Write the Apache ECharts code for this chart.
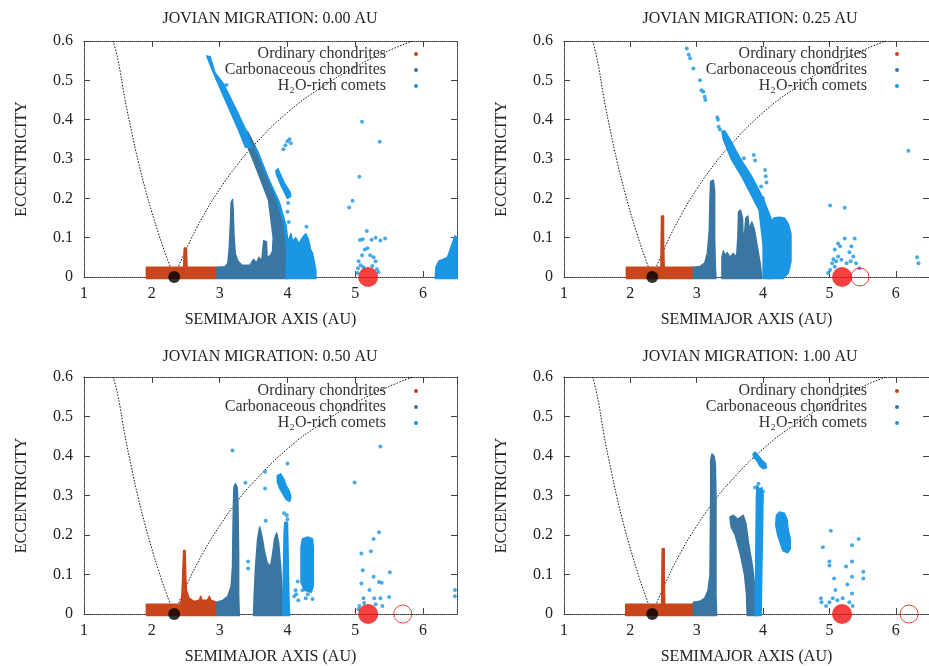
<!DOCTYPE html>
<html>
<head>
<meta charset="utf-8">
<script src="https://cdn.jsdelivr.net/npm/echarts@6/dist/echarts.min.js"></script>
<style>
  html, body { margin: 0; padding: 0; background: #fff; overflow: hidden; }
  #chart { width: 929px; height: 666px; }
</style>
</head>
<body>
<div id="chart"></div>
<script>
const panelTitles = [
  'JOVIAN MIGRATION: 0.00 AU',
  'JOVIAN MIGRATION: 0.25 AU',
  'JOVIAN MIGRATION: 0.50 AU',
  'JOVIAN MIGRATION: 1.00 AU'
]
const seriesNames = ['Ordinary chondrites', 'Carbonaceous chondrites', 'H\u2082O-rich comets']

// dotted guide curves
const aphelionCurve = [[1.43, 0.6], [1.5, 0.553], [1.6, 0.456], [1.7, 0.371], [1.8, 0.294], [1.9, 0.226], [2.0, 0.165], [2.1, 0.11], [2.2, 0.059], [2.33, 0]]
const perihelionCurve = [[2.33, 0], [2.5, 0.068], [2.75, 0.153], [3.0, 0.223], [3.25, 0.283], [3.5, 0.334], [4.0, 0.418], [4.5, 0.482], [5.0, 0.534], [5.5, 0.576], [5.85, 0.6]]

const innerEdge = [2.33, 0]
const jupiterNow = [5.19, 0]
const jupiterStart = [null, [5.46, 0], [5.7, 0], [6.2, 0]]

// panel 1 : 0.00 AU
const p1Ordinary = [
  [[1.92, -0.004], [1.92, 0.025], [2.96, 0.025], [2.96, -0.004]],
  [[2.47, 0.02], [2.475, 0.06], [2.48, 0.074], [2.51, 0.074], [2.515, 0.05], [2.52, 0.02]]
]
const p1Carbon = [
  [[2.96, -0.004], [2.96, 0.025], [3.08, 0.026], [3.12, 0.035], [3.14, 0.07], [3.16, 0.14], [3.17, 0.19], [3.19, 0.197], [3.2, 0.17], [3.21, 0.11], [3.23, 0.06], [3.27, 0.04], [3.33, 0.03], [3.45, 0.03], [3.5, 0.045], [3.54, 0.035], [3.58, 0.05], [3.62, 0.04], [3.65, 0.092], [3.69, 0.09], [3.7, 0.05], [3.75, 0.055], [3.78, 0.065], [3.79, 0.1], [3.72, 0.196], [3.57, 0.263], [3.43, 0.325], [3.3, 0.365], [3.41, 0.37], [3.53, 0.33], [3.68, 0.265], [3.84, 0.2], [3.95, 0.13], [3.99, 0.07], [4.0, -0.004]]
]
const p1Comets = [
  [[2.81, 0.562], [2.86, 0.56], [2.93, 0.52], [3.06, 0.49], [3.25, 0.424], [3.41, 0.365], [3.47, 0.33], [3.38, 0.33], [3.3, 0.365], [3.15, 0.424], [2.98, 0.49], [2.86, 0.54]],
  [[3.52, 0.33], [3.56, 0.32], [3.72, 0.25], [3.88, 0.19], [3.98, 0.13], [4.02, 0.07], [4.02, 0.0], [3.99, 0.0], [3.99, 0.07], [3.95, 0.13], [3.84, 0.2], [3.68, 0.265], [3.53, 0.325]],
  [[3.98, -0.004], [3.99, 0.06], [4.01, 0.09], [4.05, 0.11], [4.08, 0.09], [4.12, 0.1], [4.17, 0.085], [4.22, 0.1], [4.27, 0.11], [4.31, 0.095], [4.34, 0.07], [4.37, 0.06], [4.4, 0.035], [4.42, 0.015], [4.42, -0.004]],
  [[3.83, 0.27], [3.86, 0.275], [3.95, 0.24], [4.04, 0.215], [4.05, 0.205], [4.0, 0.2], [3.9, 0.235], [3.84, 0.26]],
  [[6.18, -0.004], [6.19, 0.025], [6.23, 0.04], [6.3, 0.045], [6.36, 0.05], [6.4, 0.07], [6.44, 0.09], [6.47, 0.105], [6.5, 0.1], [6.5, -0.004]]
]
const p1CometDots = [
  [3.1, 0.488], [3.94, 0.325], [3.97, 0.335], [4.0, 0.345], [4.03, 0.35], [4.05, 0.34],
  [4.01, 0.188], [4.0, 0.166], [4.02, 0.14], [4.28, 0.128],
  [5.1, 0.395], [5.36, 0.344], [5.06, 0.255], [4.96, 0.194], [4.91, 0.177], [5.17, 0.117],
  [5.07, 0.094], [5.11, 0.096], [5.24, 0.095], [5.3, 0.1], [5.37, 0.093], [5.44, 0.098],
  [5.14, 0.07], [5.18, 0.073], [5.1, 0.055], [5.22, 0.055], [5.27, 0.05], [5.05, 0.04], [5.3, 0.04],
  [5.08, 0.03], [5.04, 0.022], [5.12, 0.025], [5.25, 0.028], [5.32, 0.02], [5.34, 0.012], [5.03, 0.01]
]

// panel 2 : 0.25 AU
const p2Ordinary = [
  [[1.94, -0.004], [1.94, 0.025], [2.95, 0.025], [2.95, -0.004]],
  [[2.46, 0.02], [2.465, 0.1], [2.47, 0.155], [2.5, 0.155], [2.5, 0.1], [2.51, 0.02]]
]
const p2Carbon = [
  [[2.95, -0.004], [2.95, 0.025], [3.05, 0.027], [3.12, 0.035], [3.16, 0.06], [3.19, 0.12], [3.2, 0.2], [3.21, 0.243], [3.25, 0.246], [3.27, 0.22], [3.27, 0.1], [3.28, 0.03], [3.29, -0.004]],
  [[3.38, -0.004], [3.38, 0.05], [3.4, 0.066], [3.43, 0.055], [3.46, 0.062], [3.5, 0.05], [3.55, 0.06], [3.6, 0.05], [3.62, 0.1], [3.63, 0.165], [3.66, 0.17], [3.69, 0.15], [3.7, 0.09], [3.72, 0.11], [3.74, 0.15], [3.77, 0.155], [3.79, 0.12], [3.83, 0.14], [3.87, 0.12], [3.92, 0.07], [3.96, 0.03], [3.98, -0.004]]
]
const p2Comets = [
  [[4.0, -0.004], [4.0, 0.08], [3.94, 0.17], [3.68, 0.255], [3.52, 0.3], [3.4, 0.35], [3.38, 0.37], [3.42, 0.372], [3.5, 0.35], [3.66, 0.3], [3.83, 0.255], [4.0, 0.2], [4.14, 0.14], [4.12, -0.004]],
  [[4.06, -0.004], [4.06, 0.09], [4.1, 0.13], [4.16, 0.15], [4.24, 0.152], [4.32, 0.15], [4.38, 0.135], [4.42, 0.11], [4.42, 0.04], [4.38, 0.01], [4.3, -0.004]]
]
const p2CometDots = [
  [2.85, 0.581], [2.88, 0.565], [2.9, 0.556], [2.95, 0.53], [3.05, 0.5], [3.07, 0.475], [3.1, 0.471], [3.12, 0.458], [3.13, 0.45],
  [3.31, 0.406], [3.32, 0.4], [3.33, 0.382], [3.35, 0.375],
  [3.71, 0.302], [3.86, 0.31], [3.88, 0.296], [4.03, 0.272], [4.04, 0.256], [4.05, 0.24], [3.97, 0.23], [4.0, 0.2],
  [5.01, 0.182], [5.23, 0.176], [5.23, 0.098], [5.38, 0.098], [5.13, 0.085], [5.16, 0.078], [5.08, 0.07], [5.33, 0.078], [5.3, 0.063],
  [5.04, 0.035], [5.08, 0.026], [5.01, 0.018], [5.4, 0.035], [5.45, 0.022], [5.36, 0.052], [5.18, 0.044], [5.13, 0.052],
  [5.06, 0.045], [5.1, 0.04], [5.26, 0.035], [5.32, 0.04], [4.98, 0.01],
  [6.19, 0.321], [6.32, 0.05], [6.34, 0.035]
]

// panel 3 : 0.50 AU
const p3Ordinary = [
  [[1.92, -0.004], [1.92, 0.025], [2.42, 0.025], [2.44, 0.04], [2.45, 0.07], [2.46, 0.12], [2.47, 0.161], [2.49, 0.161], [2.5, 0.1], [2.51, 0.06], [2.55, 0.04], [2.62, 0.032], [2.7, 0.035], [2.72, 0.045], [2.74, 0.035], [2.82, 0.035], [2.85, 0.045], [2.87, 0.035], [2.95, 0.03], [2.97, -0.004]]
]
const p3Carbon = [
  [[2.96, -0.004], [2.96, 0.03], [3.05, 0.035], [3.12, 0.045], [3.17, 0.07], [3.19, 0.12], [3.2, 0.25], [3.21, 0.32], [3.23, 0.33], [3.26, 0.32], [3.27, 0.28], [3.28, 0.15], [3.28, 0.05], [3.29, -0.004]],
  [[3.5, -0.004], [3.51, 0.05], [3.53, 0.12], [3.56, 0.19], [3.59, 0.22], [3.62, 0.2], [3.66, 0.16], [3.7, 0.13], [3.75, 0.12], [3.78, 0.15], [3.81, 0.19], [3.84, 0.205], [3.87, 0.18], [3.9, 0.12], [3.92, 0.06], [3.93, -0.004]]
]
const p3Comets = [
  [[3.93, -0.004], [3.94, 0.1], [3.95, 0.2], [3.96, 0.232], [4.0, 0.232], [4.01, 0.15], [4.02, 0.05], [4.03, -0.004]],
  [[3.85, 0.35], [3.9, 0.355], [3.95, 0.34], [3.98, 0.325], [4.03, 0.31], [4.05, 0.295], [4.03, 0.285], [3.98, 0.29], [3.93, 0.305], [3.88, 0.32], [3.85, 0.335]],
  [[4.2, 0.08], [4.2, 0.17], [4.22, 0.19], [4.3, 0.195], [4.37, 0.19], [4.38, 0.17], [4.38, 0.07], [4.35, 0.055], [4.25, 0.06]]
]
const p3CometDots = [
  [3.19, 0.414], [3.38, 0.332], [3.67, 0.36], [3.67, 0.318], [4.0, 0.381], [3.68, 0.236], [4.0, 0.24], [3.95, 0.255], [3.99, 0.25],
  [3.42, 0.133], [3.42, 0.115], [4.15, 0.082], [4.12, 0.06], [4.1, 0.045], [4.16, 0.035], [4.13, 0.05], [4.27, 0.04], [4.37, 0.038], [4.3, 0.05], [4.22, 0.06],
  [5.37, 0.424], [4.99, 0.333], [5.35, 0.207], [5.27, 0.19], [5.09, 0.153], [5.23, 0.159], [5.11, 0.111], [5.51, 0.106],
  [5.27, 0.094], [5.09, 0.077], [5.35, 0.081], [5.39, 0.079], [5.21, 0.061], [5.12, 0.04], [5.28, 0.04], [5.37, 0.04], [5.5, 0.043],
  [5.13, 0.028], [5.06, 0.02], [5.3, 0.025], [5.4, 0.02], [5.05, 0.012],
  [6.47, 0.061], [6.47, 0.045]
]

// panel 4 : 1.00 AU
const p4Ordinary = [
  [[1.93, -0.004], [1.93, 0.025], [2.95, 0.025], [2.95, -0.004]],
  [[2.47, 0.02], [2.475, 0.1], [2.48, 0.165], [2.51, 0.165], [2.51, 0.1], [2.52, 0.02]]
]
const p4Carbon = [
  [[2.95, -0.004], [2.95, 0.03], [3.05, 0.032], [3.12, 0.04], [3.17, 0.06], [3.2, 0.1], [3.21, 0.3], [3.21, 0.39], [3.23, 0.405], [3.26, 0.4], [3.28, 0.38], [3.29, 0.3], [3.29, 0.05], [3.3, -0.004]],
  [[3.5, 0.245], [3.55, 0.25], [3.62, 0.24], [3.7, 0.25], [3.74, 0.23], [3.78, 0.18], [3.84, 0.12], [3.88, 0.06], [3.9, -0.004], [3.76, -0.004], [3.75, 0.05], [3.72, 0.1], [3.66, 0.15], [3.58, 0.2], [3.52, 0.22]]
]
const p4Comets = [
  [[3.88, -0.004], [3.89, 0.15], [3.9, 0.3], [3.91, 0.325], [3.95, 0.315], [3.98, 0.32], [4.0, 0.3], [3.99, 0.2], [3.98, 0.1], [3.97, -0.004]],
  [[3.85, 0.405], [3.88, 0.41], [3.93, 0.4], [3.98, 0.39], [4.04, 0.38], [4.05, 0.37], [4.0, 0.368], [3.95, 0.375], [3.9, 0.39], [3.86, 0.395]],
  [[4.2, 0.25], [4.25, 0.258], [4.32, 0.255], [4.36, 0.24], [4.38, 0.21], [4.41, 0.19], [4.41, 0.165], [4.37, 0.155], [4.3, 0.16], [4.26, 0.18], [4.22, 0.2], [4.19, 0.225]]
]
const p4CometDots = [
  [3.88, 0.32], [3.93, 0.33], [3.98, 0.3], [4.0, 0.31],
  [5.02, 0.211], [5.44, 0.19], [4.9, 0.169], [5.34, 0.174], [5.0, 0.133], [5.0, 0.123], [5.34, 0.133], [5.25, 0.12],
  [5.51, 0.107], [5.51, 0.09], [5.07, 0.09], [5.34, 0.094], [5.27, 0.075], [5.09, 0.061], [5.34, 0.052],
  [4.87, 0.04], [4.88, 0.03], [5.0, 0.03], [5.05, 0.04], [5.3, 0.03], [5.35, 0.02], [4.95, 0.02], [5.2, 0.04], [5.12, 0.035]
]

const colors = { ordinary: '#c8461c', carbon: '#3a76a2', comets: '#1a96e4', jupiter: '#f01010' }
const font = 'Liberation Serif'

const panels = [
  { ordinary: p1Ordinary, carbon: p1Carbon, comets: p1Comets, dots: p1CometDots },
  { ordinary: p2Ordinary, carbon: p2Carbon, comets: p2Comets, dots: p2CometDots },
  { ordinary: p3Ordinary, carbon: p3Carbon, comets: p3Comets, dots: p3CometDots },
  { ordinary: p4Ordinary, carbon: p4Carbon, comets: p4Comets, dots: p4CometDots }
]

const grids = [
  { left: 84, top: 41, width: 373, height: 236 },
  { left: 564, top: 41, width: 374, height: 236 },
  { left: 84, top: 377, width: 373, height: 239 },
  { left: 564, top: 377, width: 374, height: 239 }
]

const textStyle = { fontFamily: font, fontSize: 16, color: '#222' }
const frameLine = { lineStyle: { color: '#333', width: 1, type: 'dotted' } }
const frameTick = { inside: true, length: 6, lineStyle: { color: '#444' } }

const areaSeries = (name, polys, color, i) => ({
  name,
  type: 'custom',
  xAxisIndex: i * 2,
  yAxisIndex: i * 2,
  clip: false,
  silent: true,
  z: 3,
  itemStyle: { color },
  data: polys.map(p => [p[0][0], p[0][1]]),
  renderItem: (params, api) => ({
    type: 'polygon',
    shape: { points: polys[params.dataIndex].map(pt => api.coord(pt)) },
    style: { fill: color, stroke: color, lineWidth: 1.5, lineJoin: 'round' }
  })
})

const dotSeries = (name, data, i, opts) => Object.assign({
  name,
  type: 'scatter',
  xAxisIndex: i * 2,
  yAxisIndex: i * 2,
  silent: true,
  data
}, opts)

const curveSeries = (data, i) => ({
  type: 'line',
  xAxisIndex: i * 2,
  yAxisIndex: i * 2,
  data,
  smooth: true,
  symbol: 'none',
  silent: true,
  z: 2,
  lineStyle: { color: '#111', width: 1, type: [1.5, 1.5] }
})

const series = []
panels.forEach((p, i) => {
  series.push(curveSeries(aphelionCurve, i), curveSeries(perihelionCurve, i))
  series.push(areaSeries(seriesNames[0], p.ordinary, colors.ordinary, i))
  series.push(areaSeries(seriesNames[1], p.carbon, colors.carbon, i))
  series.push(areaSeries(seriesNames[2], p.comets, colors.comets, i))
  series.push(dotSeries(seriesNames[2], p.dots, i, { symbolSize: 4, z: 4, itemStyle: { color: colors.comets } }))
  series.push(dotSeries('inner', [innerEdge], i, { symbolSize: 12, z: 6, itemStyle: { color: '#000' } }))
  series.push(dotSeries('jupiter', [jupiterNow], i, { symbolSize: 20, z: 6, itemStyle: { color: colors.jupiter } }))
  if (jupiterStart[i]) {
    series.push(dotSeries('jupiter start', [jupiterStart[i]], i, {
      symbolSize: 18, z: 6, clip: false,
      itemStyle: { color: 'rgba(0,0,0,0)', borderColor: colors.jupiter, borderWidth: 1 }
    }))
  }
})

const xAxis = []
const yAxis = []
grids.forEach((g, i) => {
  xAxis.push({
    gridIndex: i, type: 'value', min: 1, max: 6.5, interval: 1,
    name: 'SEMIMAJOR AXIS (AU)', nameLocation: 'middle', nameGap: 35, nameTextStyle: textStyle,
    axisLine: Object.assign({ onZero: false }, frameLine), axisTick: frameTick,
    axisLabel: Object.assign({ margin: 9, showMaxLabel: false }, textStyle),
    splitLine: { show: false }
  })
  xAxis.push({
    gridIndex: i, type: 'value', min: 1, max: 6.5, interval: 1, position: 'top',
    axisLine: Object.assign({ onZero: false }, frameLine), axisTick: frameTick,
    axisLabel: { show: false }, splitLine: { show: false }
  })
  yAxis.push({
    gridIndex: i, type: 'value', min: 0, max: 0.6, interval: 0.1,
    name: 'ECCENTRICITY', nameLocation: 'middle', nameGap: 54, nameTextStyle: textStyle,
    axisLine: Object.assign({ onZero: false }, frameLine), axisTick: frameTick,
    axisLabel: Object.assign({ margin: 11 }, textStyle),
    splitLine: { show: false }
  })
  yAxis.push({
    gridIndex: i, type: 'value', min: 0, max: 0.6, interval: 0.1, position: 'right',
    axisLine: Object.assign({ onZero: false }, frameLine), axisTick: frameTick,
    axisLabel: { show: false }, splitLine: { show: false }
  })
})

const titleX = [270, 750, 270, 750]
const titleTop = [11, 11, 349, 349]
const legendRight = [511, 30, 511, 30]
const legendTop = [46, 46, 383, 383]

const option = {
  animation: false,
  backgroundColor: '#fff',
  title: panelTitles.map((t, i) => ({
    text: t, left: titleX[i], top: titleTop[i], textAlign: 'center', padding: 0,
    textStyle: Object.assign({ fontWeight: 'normal' }, textStyle)
  })),
  legend: grids.map((g, i) => ({
    orient: 'vertical', align: 'right', right: legendRight[i], top: legendTop[i],
    itemWidth: 50, itemHeight: 4, itemGap: 0, icon: 'circle', selectedMode: false, padding: 0,
    textStyle: Object.assign({ lineHeight: 15 }, textStyle, { color: '#333' }),
    data: seriesNames
  })),
  grid: grids,
  xAxis,
  yAxis,
  series
}

const chart = echarts.init(document.getElementById('chart'))
chart.setOption(option)
</script>
</body>
</html>
